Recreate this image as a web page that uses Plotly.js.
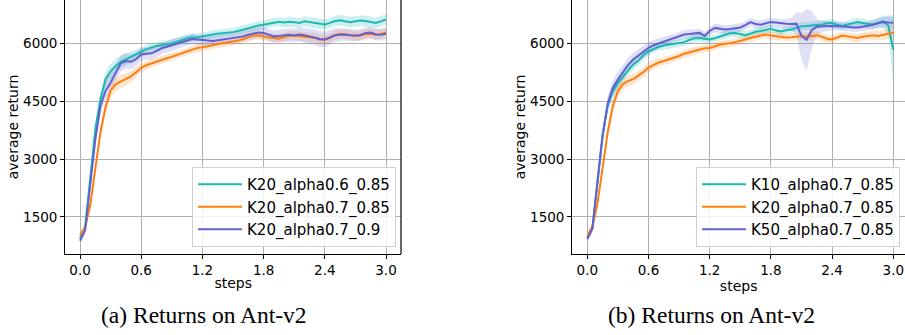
<!DOCTYPE html>
<html>
<head>
<meta charset="utf-8">
<script src="https://cdn.plot.ly/plotly-3.0.1.min.js"></script>
<style>html,body{margin:0;padding:0;background:#fff;}#chart{width:905px;height:335px;}</style>
</head>
<body>
<div id="chart"></div>
<script>
// ---- data ----
const steps = [0,0.05,0.1,0.15,0.2,0.25,0.3,0.35,0.4,0.45,0.5,0.55,0.6,0.65,0.7,0.75,0.8,0.85,0.9,0.95,
  1.0,1.05,1.1,1.15,1.2,1.25,1.3,1.35,1.4,1.45,1.5,1.55,1.6,1.65,1.7,1.75,1.8,1.85,1.9,1.95,
  2.0,2.05,2.1,2.15,2.2,2.25,2.3,2.35,2.4,2.45,2.5,2.55,2.6,2.65,2.7,2.75,2.8,2.85,2.9,2.95,3.0];

// (a) left panel
const a_names = ["K20_alpha0.6_0.85","K20_alpha0.7_0.85","K20_alpha0.7_0.9"];
const a_teal = [940,1240,2500,3780,4560,5070,5280,5420,5530,5590,5660,5720,5790,5860,5910,5940,5960,5980,6010,6050,
  6100,6140,6170,6160,6190,6220,6240,6260,6270,6290,6300,6330,6370,6400,6430,6470,6490,6520,6560,6570,
  6550,6570,6560,6540,6580,6560,6540,6510,6500,6540,6590,6610,6580,6560,6580,6600,6590,6570,6540,6580,6630];
const a_teal_sd = [70,100,150,180,200,200,190,180,170,150,140,130,120,110,100,100,100,100,110,110,
  110,110,100,100,100,100,100,100,100,100,110,110,110,110,120,120,120,120,120,120,
  130,130,130,130,130,130,130,130,130,130,140,140,140,140,140,140,140,140,140,140,140];
const a_orange = [1020,1230,1800,2750,3700,4350,4780,4950,5020,5070,5150,5260,5380,5440,5490,5530,5580,5620,5660,5710,
  5750,5800,5850,5890,5910,5930,5960,5990,6010,6030,6050,6080,6120,6160,6210,6220,6190,6170,6150,6130,
  6170,6200,6210,6190,6180,6170,6160,6110,6100,6150,6220,6260,6240,6220,6200,6230,6250,6260,6230,6250,6290];
const a_orange_sd = [60,80,100,130,160,180,180,170,170,160,150,140,120,110,100,100,100,100,100,100,
  100,100,100,110,110,100,100,100,100,100,100,100,110,110,110,110,110,110,110,110,
  120,120,120,120,120,120,120,120,120,120,120,120,130,130,130,130,130,130,130,130,130];
const a_purple = [880,1150,2330,3520,4380,4770,4990,5260,5490,5550,5530,5600,5720,5740,5750,5810,5880,5920,5960,6000,
  6030,6080,6120,6110,6100,6080,6070,6090,6110,6130,6140,6160,6190,6230,6260,6290,6280,6240,6190,6200,
  6220,6230,6210,6240,6220,6190,6170,6120,6110,6170,6220,6230,6240,6220,6210,6220,6280,6290,6240,6230,6260];
const a_purple_sd = [70,100,150,180,200,220,220,210,200,200,190,180,170,160,160,160,150,150,150,150,
  140,140,130,130,130,130,130,130,130,130,130,130,130,140,140,140,150,150,150,160,
  160,170,170,180,190,200,200,210,200,190,180,170,160,160,150,150,150,150,150,150,150];

// (b) right panel
const b_names = ["K10_alpha0.7_0.85","K20_alpha0.7_0.85","K50_alpha0.7_0.85"];
const b_teal = [950,1200,2370,3620,4410,4760,4980,5150,5320,5460,5560,5700,5800,5870,5920,5950,5970,5990,6010,6040,
  6100,6140,6150,6120,6110,6140,6190,6230,6270,6280,6250,6220,6260,6310,6330,6370,6390,6340,6320,6350,
  6370,6410,6450,6460,6470,6480,6500,6530,6540,6490,6460,6500,6540,6560,6540,6510,6500,6540,6580,6480,5850];
const b_teal_sd = [70,100,150,180,180,170,160,150,140,130,120,110,110,100,100,100,100,100,100,100,
  100,100,100,100,100,100,100,100,100,100,100,100,100,100,100,100,100,100,100,100,
  100,100,100,100,100,100,100,100,100,100,100,100,110,110,110,110,120,120,150,250,900];
const b_orange = [1010,1250,1850,2750,3700,4380,4770,4950,5030,5080,5160,5260,5380,5450,5510,5550,5590,5630,5680,5740,
  5780,5810,5850,5880,5890,5940,5970,6000,6010,6040,6070,6110,6150,6180,6220,6240,6210,6190,6180,6160,
  6170,6190,6200,6180,6200,6220,6180,6130,6110,6170,6210,6190,6160,6150,6180,6210,6220,6200,6230,6260,6285];
const b_orange_sd = [60,80,100,130,160,180,170,160,150,140,130,130,120,110,110,100,100,100,100,100,
  100,100,100,100,100,100,100,100,100,100,100,100,100,100,100,100,100,100,100,100,
  100,100,100,100,100,100,100,100,100,100,100,100,110,110,110,110,120,120,130,140,150];
const b_purple = [928,1200,2450,3620,4430,4850,5070,5270,5450,5590,5690,5790,5890,5960,6010,6050,6090,6140,6200,6240,
  6250,6270,6280,6200,6330,6410,6390,6370,6380,6400,6420,6480,6560,6510,6490,6530,6560,6550,6530,6520,
  6510,6520,6200,6100,6350,6440,6450,6460,6460,6450,6450,6440,6420,6420,6440,6460,6490,6530,6560,6550,6545];
const b_purple_sd = [70,100,150,180,200,200,200,190,180,180,170,160,150,140,130,120,110,110,110,110,
  110,110,110,110,110,110,110,110,110,110,110,110,110,110,110,110,110,110,110,120,
  150,300,600,800,500,200,150,130,120,110,110,110,110,110,110,110,120,130,140,150,150];

// ---- styles ----
const colTeal = "#1cb8b2", colOrange = "#ff7f0e", colPurple = "#6160d2";
const fillTeal = "rgba(28,184,178,0.22)", fillOrange = "rgba(255,127,14,0.2)", fillPurple = "rgba(97,96,210,0.2)";

function band(xs, m, sd, fc, xa, ya){
  const up = m.map((v,i)=>v+sd[i]);
  const lo = m.map((v,i)=>v-sd[i]);
  return {x: xs.concat(xs.slice().reverse()), y: up.concat(lo.slice().reverse()),
    type:"scatter", mode:"lines", fill:"toself", fillcolor:fc, line:{width:0},
    hoverinfo:"skip", showlegend:false, xaxis:xa, yaxis:ya};
}
function line(xs, m, name, col, xa, ya, lg){
  return {x: xs, y: m, type:"scatter", mode:"lines", name:name,
    line:{color:col, width:2}, xaxis:xa, yaxis:ya, legend:lg};
}

const traces = [
  band(steps,a_teal,a_teal_sd,fillTeal,"x","y"),
  band(steps,a_orange,a_orange_sd,fillOrange,"x","y"),
  band(steps,a_purple,a_purple_sd,fillPurple,"x","y"),
  band(steps,b_teal,b_teal_sd,fillTeal,"x2","y2"),
  band(steps,b_orange,b_orange_sd,fillOrange,"x2","y2"),
  band(steps,b_purple,b_purple_sd,fillPurple,"x2","y2"),
  line(steps,a_teal,a_names[0],colTeal,"x","y","legend"),
  line(steps,a_orange,a_names[1],colOrange,"x","y","legend"),
  line(steps,a_purple,a_names[2],colPurple,"x","y","legend"),
  line(steps,b_teal,b_names[0],colTeal,"x2","y2","legend2"),
  line(steps,b_orange,b_names[1],colOrange,"x2","y2","legend2"),
  line(steps,b_purple,b_names[2],colPurple,"x2","y2","legend2")
];

const tickFont = {family:"DejaVu Sans", size:13.5, color:"#000"};
const titleFont = {family:"DejaVu Sans", size:14, color:"#000"};
const xTicks = [0,0.6,1.2,1.8,2.4,3.0];
const yTicks = [1500,3000,4500,6000];
const yDom = [0.2418, 1];

function xax(dom, rng){
  return {domain:dom, range:rng, tickvals:xTicks, tickformat:".1f", showgrid:true, gridcolor:"#b0b0b0", gridwidth:1,
    zeroline:false, showline:true, linecolor:"#000", linewidth:1.2, ticks:"outside", ticklen:4, tickcolor:"#000",
    tickfont:tickFont, title:{text:"steps", font:titleFont, standoff:0}, automargin:false};
}
function yax(anchor){
  return {domain:yDom, range:[535,7135], tickvals:yTicks, tickformat:"d", showgrid:true, gridcolor:"#b0b0b0", gridwidth:1,
    zeroline:false, showline:true, linecolor:"#000", linewidth:1.2, ticks:"outside", ticklen:4, tickcolor:"#000",
    tickfont:tickFont, title:{text:"average return", font:titleFont, standoff:1}, anchor:anchor, automargin:false};
}

const legendStyle = {font:{family:"DejaVu Sans", size:15, color:"#000"}, bgcolor:"rgba(255,255,255,0.85)",
  bordercolor:"#d0d0d0", borderwidth:1, xref:"paper", yref:"paper", xanchor:"right", yanchor:"bottom",
  itemwidth:44, tracegroupgap:0};

const layout = {
  width:905, height:335, margin:{l:0,r:0,t:0,b:0}, paper_bgcolor:"#fff", plot_bgcolor:"#fff",
  showlegend:true,
  xaxis: Object.assign(xax([0.0722,0.4431],[-0.144,3.147]), {anchor:"y"}),
  yaxis: yax("x"),
  xaxis2: Object.assign(xax([0.6324,1],[-0.147,3.115]), {anchor:"y2"}),
  yaxis2: yax("x2"),
  legend: Object.assign({}, legendStyle, {x:0.4376, y:0.2627}),
  legend2: Object.assign({}, legendStyle, {x:0.9945, y:0.2627}),
  shapes:[{type:"line", xref:"paper", yref:"paper", x0:0.4431, x1:0.4431, y0:0.2418, y1:1, line:{color:"#000", width:1.2}}],
  annotations:[
    {text:"(a) Returns on Ant-v2", xref:"paper", yref:"paper", x:204/905, y:(335-315)/335, xanchor:"center", yanchor:"middle",
     showarrow:false, font:{family:"Liberation Serif", size:23.5, color:"#000"}},
    {text:"(b) Returns on Ant-v2", xref:"paper", yref:"paper", x:711/905, y:(335-315)/335, xanchor:"center", yanchor:"middle",
     showarrow:false, font:{family:"Liberation Serif", size:23.5, color:"#000"}}
  ]
};

Plotly.newPlot("chart", traces, layout, {displayModeBar:false, staticPlot:true});
</script>
</body>
</html>
